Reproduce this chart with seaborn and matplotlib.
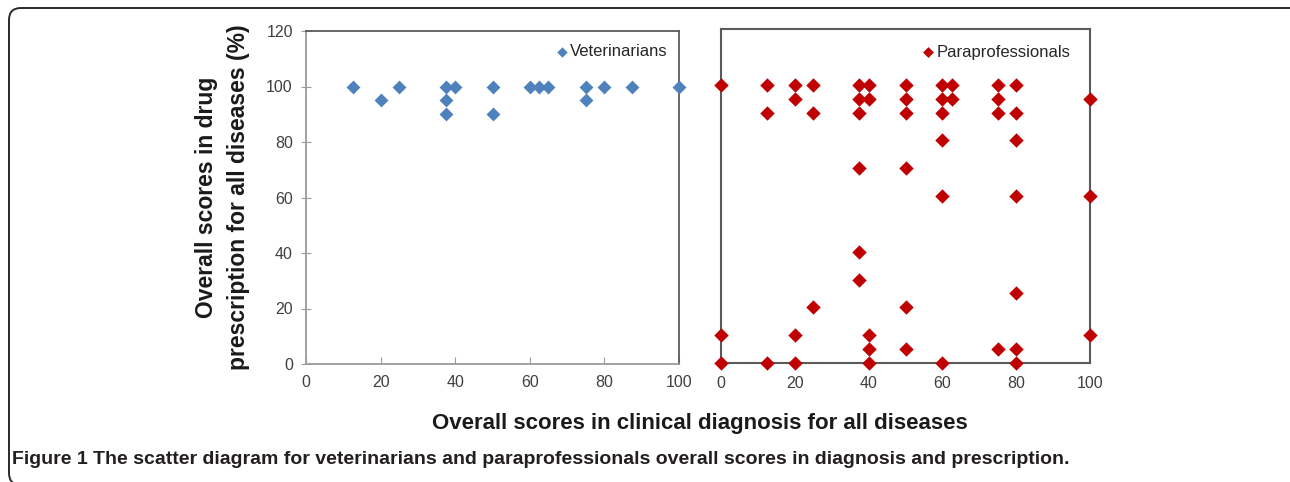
import numpy as np
import pandas as pd
import seaborn as sns
import matplotlib
matplotlib.use("Agg")
import matplotlib.pyplot as plt
from matplotlib.patches import FancyBboxPatch
from matplotlib.transforms import IdentityTransform

# Veterinarians: diagnosis score (x) vs prescription score (y)
vet_diag = [12.5, 25, 37.5, 40, 50, 60, 62.5, 65, 75, 80, 87.5, 100,
            20, 37.5, 75, 37.5, 50]
vet_presc = [100, 100, 100, 100, 100, 100, 100, 100, 100, 100, 100, 100,
             95, 95, 95, 90, 90]

# Paraprofessionals: diagnosis score (x) vs prescription score (y)
para_diag = [0, 12.5, 20, 25, 37.5, 40, 50, 60, 62.5, 75, 80,
             20, 37.5, 40, 50, 60, 62.5, 75, 100,
             12.5, 25, 37.5, 50, 60, 75, 80,
             60, 80,
             37.5, 50,
             60, 80, 100,
             37.5, 37.5, 80, 25, 50,
             0, 20, 40, 100,
             40, 50, 75, 80,
             0, 12.5, 20, 40, 60, 80]
para_presc = [100, 100, 100, 100, 100, 100, 100, 100, 100, 100, 100,
              95, 95, 95, 95, 95, 95, 95, 95,
              90, 90, 90, 90, 90, 90, 90,
              80, 80,
              70, 70,
              60, 60, 60,
              40, 30, 25, 20, 20,
              10, 10, 10, 10,
              5, 5, 5, 5,
              0, 0, 0, 0, 0, 0]

x_ticks = [0, 20, 40, 60, 80, 100]
y_ticks = [0, 20, 40, 60, 80, 100, 120]

vet_df = pd.DataFrame({"diag": vet_diag, "presc": vet_presc})
para_df = pd.DataFrame({"diag": para_diag, "presc": para_presc})

sns.set_theme(style="white")
plt.rcParams["font.family"] = ["Liberation Sans", "DejaVu Sans"]

W, H = 1290, 482
fig = plt.figure(figsize=(W / 100, H / 100), dpi=100)

def px_axes(x0, y0, x1, y1):
    return fig.add_axes([x0 / W, 1 - y1 / H, (x1 - x0) / W, (y1 - y0) / H])

ax1 = px_axes(306, 31, 679, 364)
ax2 = px_axes(721, 29, 1090, 363)

tick_color = "#404040"
light = "#9a9a9a"
dark = "#5a5a5a"

sns.scatterplot(data=vet_df, x="diag", y="presc", ax=ax1, marker="D",
                color="#4F81BD", s=50, linewidth=0, label="Veterinarians",
                clip_on=False, zorder=3)
sns.scatterplot(data=para_df, x="diag", y="presc", ax=ax2, marker="D",
                color="#C00000", s=54, linewidth=0, label="Paraprofessionals",
                clip_on=False, zorder=3)

for ax in (ax1, ax2):
    ax.set_xlim(0, 100)
    ax.set_ylim(0, 120)
    ax.set_xticks(x_ticks)
    ax.set_xlabel("")
    ax.set_ylabel("")
    ax.tick_params(axis="x", labelsize=11.5, labelcolor=tick_color)
    ax.set_facecolor("none")

ax1.set_yticks(y_ticks)
ax1.tick_params(axis="y", labelsize=11.5, labelcolor=tick_color,
                direction="inout", length=7, width=0.8, color=light, pad=6,
                left=True)
ax1.tick_params(axis="x", direction="in", length=5, width=0.8, color=light,
                pad=8, bottom=True)
for side in ("left", "bottom"):
    ax1.spines[side].set_color(light)
    ax1.spines[side].set_linewidth(1.3)
for side in ("top", "right"):
    ax1.spines[side].set_color(dark)
    ax1.spines[side].set_linewidth(1.3)

ax2.set_yticks(y_ticks)
ax2.tick_params(axis="y", left=False, labelleft=False)
ax2.tick_params(axis="x", length=0, pad=9)
for side in ("left", "bottom", "top", "right"):
    ax2.spines[side].set_color(dark)
    ax2.spines[side].set_linewidth(1.5)

ax1.legend(loc="center right", bbox_to_anchor=(0.97, 0.937), frameon=False,
           borderpad=0, borderaxespad=0, handletextpad=0.0, handlelength=1.0,
           markerscale=0.75, fontsize=12, labelcolor="#262626")
ax2.legend(loc="center right", bbox_to_anchor=(0.946, 0.931), frameon=False,
           borderpad=0, borderaxespad=0, handletextpad=0.0, handlelength=1.0,
           markerscale=0.75, fontsize=12, labelcolor="#262626")

fig.text(223 / W, 1 - 197.5 / H,
         "Overall scores in drug\nprescription for all diseases (%)",
         rotation=90, ha="center", va="center", fontsize=16.5,
         fontweight="bold", linespacing=1.5, color="#1a1a1a")
fig.text(700 / W, 1 - 423 / H,
         "Overall scores in clinical diagnosis for all diseases",
         ha="center", va="center", fontsize=16, fontweight="bold",
         color="#1a1a1a")

# Caption: figure number followed by its description
cap_y = 1 - 459 / H
t1 = fig.text(12 / W, cap_y, "Figure 1", ha="left", va="center",
              fontsize=14, fontweight="bold", color="#231f20")
fig.canvas.draw()
bb = t1.get_window_extent()
fig.text((bb.x1 + 5) / W, cap_y,
         "The scatter diagram for veterinarians and paraprofessionals "
         "overall scores in diagnosis and prescription.",
         ha="left", va="center", fontsize=14, fontweight="bold",
         color="#231f20")

# Rounded frame around the figure panel
frame = FancyBboxPatch((9, -3), 1300, 482 - 8 + 3,
                       boxstyle="round,pad=0,rounding_size=12",
                       transform=IdentityTransform(), fill=False,
                       edgecolor="#2a2a2a", linewidth=1.4)
fig.add_artist(frame)

fig.savefig("out.png", dpi=100)
